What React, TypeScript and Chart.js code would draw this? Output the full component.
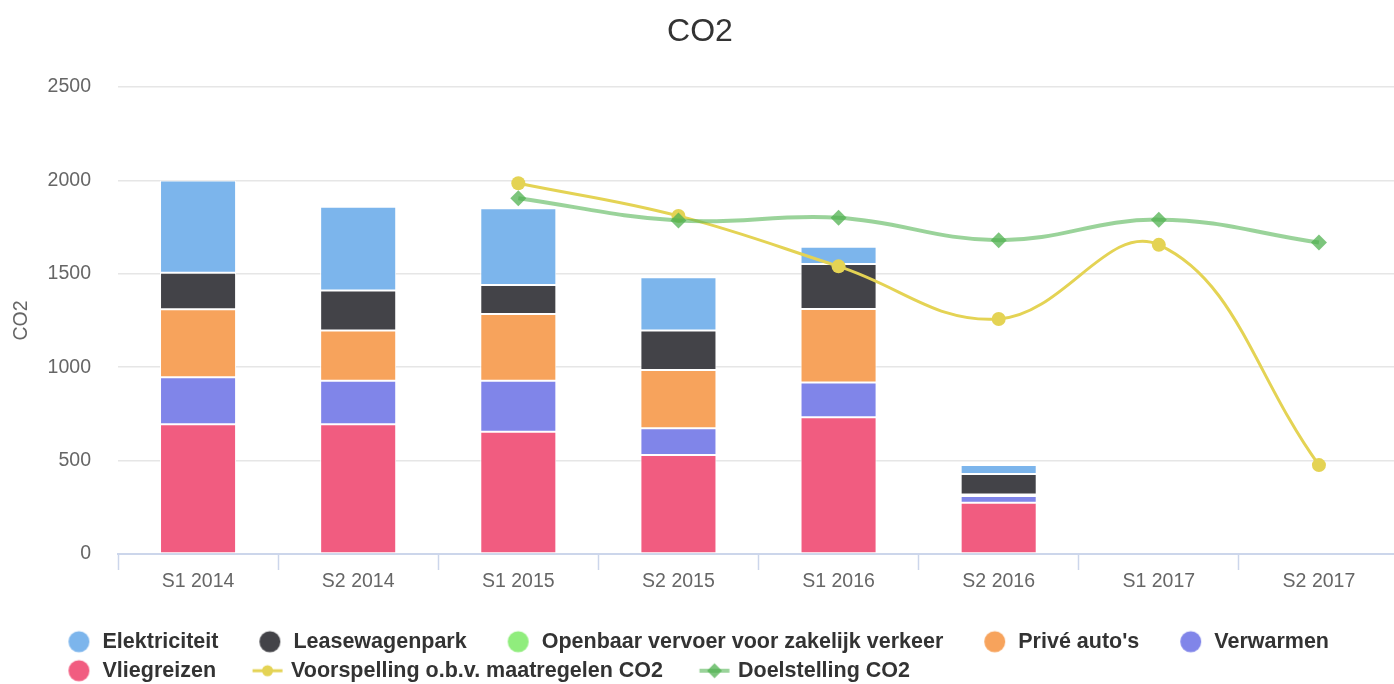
import React, { useEffect, useRef } from 'react';
import { Chart, registerables } from 'chart.js';

Chart.register(...registerables);

// ---------- data ----------
const categories = ['S1 2014', 'S2 2014', 'S1 2015', 'S2 2015', 'S1 2016', 'S2 2016', 'S1 2017', 'S2 2017'];
const elektriciteit = [494, 449, 411, 285, 93, 48, null, null];
const leasewagenpark = [196, 214, 155, 211, 240, 110, null, null];
const openbaarVervoer = [0, 0, 0, 0, 0, 0, null, null];
const priveAutos = [364, 268, 357, 312, 394, 8, null, null];
const verwarmen = [252, 234, 273, 143, 186, 35, null, null];
const vliegreizen = [694, 694, 655, 530, 732, 275, null, null];
const voorspelling = [null, null, 1985, 1810, 1540, 1258, 1655, 476];
const doelstelling = [null, null, 1905, 1785, 1800, 1680, 1790, 1667];
const yTicks = [0, 500, 1000, 1500, 2000, 2500];

// ---------- style ----------
const FONT = "'Liberation Sans', Arial, Helvetica, sans-serif";
const C_ELEK = '#7cb5ec';
const C_LEASE = '#434348';
const C_OV = '#90ed7d';
const C_PRIVE = '#f7a35c';
const C_VERW = '#8085e9';
const C_VLIEG = '#f15c80';
const C_VOORSP = '#e4d354';
const C_DOEL_LINE = 'rgba(92,184,92,0.62)';
const C_DOEL_PT = 'rgba(80,178,80,0.75)';

const LEG_FONT = 21.5;
const LEG_PAD = 7.5;
const LEG_BOX = 56.75;
const SYM_W = 64;
const SYM_H = 24;
const SYM_OFF = 15.6;

function makeSymbol(kind: string, fill: string, line?: string): HTMLCanvasElement {
  const c = document.createElement('canvas');
  c.width = SYM_W;
  c.height = SYM_H;
  const ctx = c.getContext('2d')!;
  const cx = SYM_W / 2 + SYM_OFF;
  const cy = SYM_H / 2;
  if (kind === 'circle') {
    ctx.fillStyle = fill;
    ctx.beginPath();
    ctx.arc(cx, cy, 10.5, 0, Math.PI * 2);
    ctx.fill();
  } else {
    ctx.strokeStyle = line || fill;
    ctx.lineWidth = kind === 'lineDiamond' ? 4 : 3;
    ctx.beginPath();
    ctx.moveTo(cx - 15, cy);
    ctx.lineTo(cx + 15, cy);
    ctx.stroke();
    ctx.fillStyle = fill;
    ctx.beginPath();
    if (kind === 'lineCircle') {
      ctx.arc(cx, cy, 5.5, 0, Math.PI * 2);
    } else {
      ctx.moveTo(cx, cy - 7.5);
      ctx.lineTo(cx + 7.5, cy);
      ctx.lineTo(cx, cy + 7.5);
      ctx.lineTo(cx - 7.5, cy);
      ctx.closePath();
    }
    ctx.fill();
  }
  return c;
}

// positions the legend and the title block after Chart.js has laid out the chart
const boxShift = {
  id: 'boxShift',
  afterLayout(chart: any) {
    const lg = chart.legend;
    if (lg) {
      lg.left = 27.5;
      lg.right = lg.left + lg.width;
      lg.top = 623.5;
      lg.bottom = lg.top + lg.height;
    }
    const tb = chart.titleBlock;
    if (tb) {
      tb.left = 0;
      tb.right = 1400;
      tb.width = 1400;
    }
  },
};

export default function App() {
  const ref = useRef<HTMLCanvasElement>(null);

  useEffect(() => {
    const symbols = [
      makeSymbol('circle', C_ELEK),
      makeSymbol('circle', C_LEASE),
      makeSymbol('circle', C_OV),
      makeSymbol('circle', C_PRIVE),
      makeSymbol('circle', C_VERW),
      makeSymbol('circle', C_VLIEG),
      makeSymbol('lineCircle', C_VOORSP, C_VOORSP),
      makeSymbol('lineDiamond', C_DOEL_PT, C_DOEL_LINE),
    ];

    const barCommon = {
      type: 'bar',
      barPercentage: 0.475,
      categoryPercentage: 1,
      borderColor: '#ffffff',
      borderWidth: 1,
      borderSkipped: false,
    };

    const chart = new Chart(ref.current!, {
      type: 'bar',
      data: {
        labels: categories,
        datasets: [
          { ...barCommon, label: 'Elektriciteit', data: elektriciteit, backgroundColor: C_ELEK, order: 6 },
          { ...barCommon, label: 'Leasewagenpark', data: leasewagenpark, backgroundColor: C_LEASE, order: 5 },
          { ...barCommon, label: 'Openbaar vervoer voor zakelijk verkeer', data: openbaarVervoer, backgroundColor: C_OV, order: 4 },
          { ...barCommon, label: "Privé auto's", data: priveAutos, backgroundColor: C_PRIVE, order: 3 },
          { ...barCommon, label: 'Verwarmen', data: verwarmen, backgroundColor: C_VERW, order: 2 },
          { ...barCommon, label: 'Vliegreizen', data: vliegreizen, backgroundColor: C_VLIEG, order: 1 },
          {
            type: 'line',
            label: 'Voorspelling o.b.v. maatregelen CO2',
            data: voorspelling,
            stack: 'voorspelling',
            order: -1,
            borderColor: C_VOORSP,
            backgroundColor: C_VOORSP,
            borderWidth: 3,
            pointRadius: 7,
            pointHoverRadius: 8,
            pointBackgroundColor: C_VOORSP,
            pointBorderWidth: 0,
            tension: 0.4,
            fill: false,
          },
          {
            type: 'line',
            label: 'Doelstelling CO2',
            data: doelstelling,
            stack: 'doelstelling',
            order: -2,
            borderColor: C_DOEL_LINE,
            backgroundColor: C_DOEL_PT,
            borderWidth: 4,
            pointStyle: 'rectRot',
            pointRadius: 8,
            pointHoverRadius: 9,
            pointBackgroundColor: C_DOEL_PT,
            pointBorderWidth: 0,
            tension: 0.4,
            fill: false,
          },
        ] as any,
      },
      options: {
        responsive: true,
        maintainAspectRatio: false,
        animation: false,
        layout: { padding: { left: 0, right: 2, top: 0, bottom: 22.6 } },
        plugins: {
          title: {
            display: true,
            text: 'CO2',
            color: '#333333',
            font: { size: 32, weight: 'normal', family: FONT },
            padding: { top: 13, bottom: 35.6 },
          },
          legend: {
            position: 'bottom',
            align: 'start',
            labels: {
              usePointStyle: true,
              pointStyleWidth: LEG_BOX,
              padding: LEG_PAD,
              color: '#333333',
              font: { size: LEG_FONT, weight: 'bold', family: FONT },
              generateLabels: (ch: any) =>
                ch.data.datasets.map((ds: any, i: number) => ({
                  text: ds.label,
                  fillStyle: ds.backgroundColor,
                  strokeStyle: ds.backgroundColor,
                  lineWidth: 0,
                  hidden: !ch.isDatasetVisible(i),
                  pointStyle: symbols[i],
                  datasetIndex: i,
                  fontColor: '#333333',
                })),
            },
          },
          tooltip: { enabled: true },
        },
        scales: {
          x: {
            stacked: true,
            offset: true,
            grid: {
              offset: true,
              drawOnChartArea: false,
              drawTicks: true,
              tickLength: 16,
              tickColor: '#ccd6eb',
              tickWidth: 1.5,
              color: '#ccd6eb',
            },
            border: { color: '#ccd6eb', width: 2 },
            ticks: {
              color: '#666666',
              font: { size: 19.5, family: FONT },
              padding: 0,
              maxRotation: 0,
              autoSkip: false,
            },
          },
          y: {
            stacked: true,
            min: yTicks[0],
            max: yTicks[yTicks.length - 1],
            afterBuildTicks: (scale: any) => {
              scale.ticks = yTicks.map((v) => ({ value: v }));
            },
            afterFit: (scale: any) => {
              scale.width = 118;
            },
            grid: { color: '#e6e6e6', lineWidth: 1.5, drawTicks: false },
            border: { display: false },
            ticks: {
              color: '#666666',
              font: { size: 19.5, family: FONT },
              padding: 27,
              callback: (v: any) => String(v),
            },
            title: {
              display: true,
              text: 'CO2',
              color: '#666666',
              font: { size: 19.5, family: FONT },
              padding: { top: 10.3, bottom: 13.9 },
            },
          },
        },
      } as any,
      plugins: [boxShift],
    } as any);

    return () => chart.destroy();
  }, []);

  return (
    <div
      style={{
        position: 'absolute',
        left: 0,
        top: 0,
        width: 1394,
        height: 684,
        overflow: 'hidden',
        background: '#ffffff',
      }}
    >
      <div style={{ position: 'relative', width: 1408, height: 684 }}>
        <canvas ref={ref} />
      </div>
    </div>
  );
}
